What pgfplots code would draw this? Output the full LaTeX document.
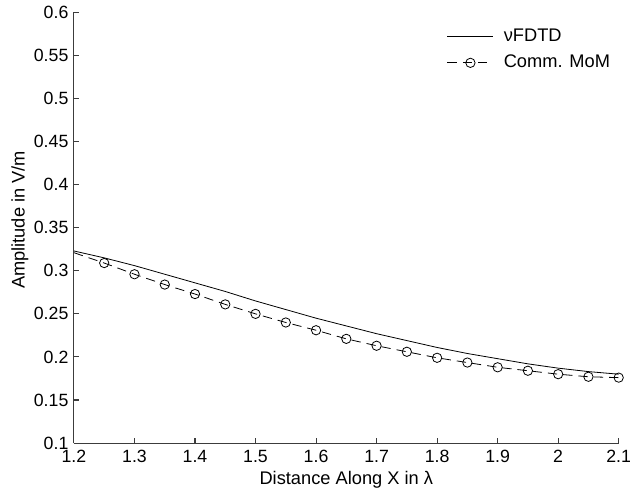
\documentclass[border=0pt]{standalone}
\usepackage{fontspec}
\setmainfont{Liberation Sans}
\usepackage{pgfplots}
\pgfplotsset{compat=1.18}
\definecolor{axgray}{RGB}{60,60,60}
\begin{document}
\begin{tikzpicture}
\begin{axis}[
  scale only axis,
  width=408.75pt, height=323.25pt,
  at={(0,0)}, anchor=south west,
  xmin=1.2, xmax=2.1, ymin=0.1, ymax=0.6,
  axis lines=left,
  axis line style={-, draw=axgray, line width=0.8pt},
  tick style={draw=axgray, line width=0.8pt},
  tick align=inside,
  major tick length=3.75pt,
  xtick={1.2,1.3,1.4,1.5,1.6,1.7,1.8,1.9,2,2.1},
  ytick={0.1,0.15,0.2,0.25,0.3,0.35,0.4,0.45,0.5,0.55,0.6},
  /pgf/number format/assume math mode=true,
  yticklabel style={/pgf/number format/fixed, /pgf/number format/precision=2,
     font=\fontsize{13.3}{15}\selectfont, anchor=east, inner sep=0pt, xshift=-4pt},
  xticklabel style={/pgf/number format/fixed, /pgf/number format/precision=2,
     font=\fontsize{13.3}{15}\selectfont, anchor=base, inner sep=0pt, yshift=-14.8pt},
  xlabel={Distance Along X in λ},
  ylabel={Amplitude in V/m},
  xlabel style={font=\fontsize{13.7}{16}\selectfont, at={(axis description cs:0.5,0)}, anchor=base, inner sep=0pt, yshift=-31.3pt},
  ylabel style={font=\fontsize{13.7}{16}\selectfont, at={(axis description cs:0,0.518)}, anchor=center, inner sep=0pt, yshift=40.5pt},
  clip=false,
  legend style={at={(axis description cs:0.6844,0.963)}, anchor=north west,
     draw=none, fill=none, inner sep=0pt, row sep=7pt, column sep=7.5pt,
     font=\fontsize{13.7}{16}\selectfont,
     nodes={inner sep=0pt, text height=9.5pt, text depth=3pt}},
  legend cell align=left,
  legend image code/.code={
    \draw[mark repeat=2,mark phase=2,#1] plot coordinates {(0pt,0pt) (17.25pt,0pt) (34.5pt,0pt)};
  },
]
\addplot[black, line width=0.6pt] coordinates {
(1.20,0.323) (1.25,0.315) (1.30,0.306) (1.35,0.296) (1.40,0.286)
(1.45,0.276) (1.50,0.265) (1.55,0.255) (1.60,0.245) (1.65,0.236)
(1.70,0.227) (1.75,0.219) (1.80,0.211) (1.85,0.204) (1.90,0.198)
(1.95,0.192) (2.00,0.187) (2.05,0.183) (2.10,0.180)
};
\addlegendentry{νFDTD}
\addplot[black, line width=0.6pt, dash pattern=on 7pt off 4.5pt, mark=o, mark size=3.5pt,
  mark options={solid, fill=none, line width=0.6pt}, mark indices={2,...,19}, forget plot] coordinates {
(1.20,0.321) (1.25,0.309) (1.30,0.296) (1.35,0.284) (1.40,0.273)
(1.45,0.261) (1.50,0.250) (1.55,0.240) (1.60,0.231) (1.65,0.221)
(1.70,0.213) (1.75,0.206) (1.80,0.199) (1.85,0.1935) (1.90,0.188)
(1.95,0.184) (2.00,0.180) (2.05,0.177) (2.10,0.176)
};
\addlegendimage{black, line width=0.6pt, dash pattern=on 7pt off 4.5pt, mark=o, mark size=3.5pt,
  mark options={solid, fill=none, line width=0.6pt}}
\addlegendentry{Comm. MoM}
\end{axis}
\path[use as bounding box] (-55.5pt,-36.5pt) rectangle (417.75pt,332.5pt);
\end{tikzpicture}
\end{document}
